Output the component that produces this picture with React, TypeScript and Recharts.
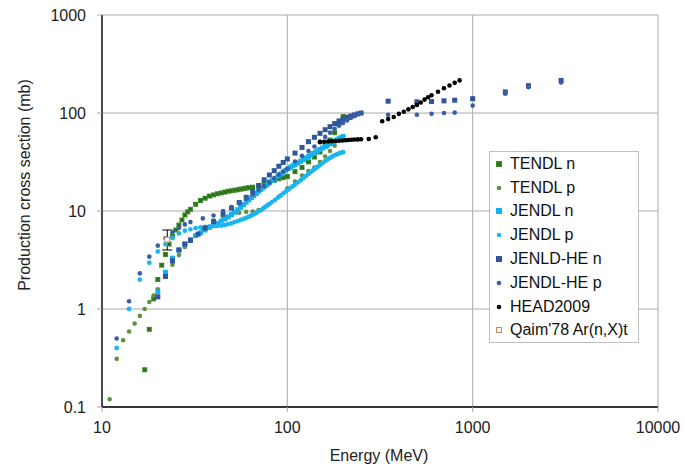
import React from 'react';
import {
  ScatterChart,
  Scatter,
  XAxis,
  YAxis,
  CartesianGrid,
  ErrorBar,
  Label,
} from 'recharts';

const FONT = '"Liberation Sans", Arial, sans-serif';

// legend names, in drawing order
const seriesNames = [
  'TENDL n',
  'TENDL p',
  'JENDL n',
  'JENDL p',
  'JENLD-HE n',
  'JENDL-HE p',
  'HEAD2009',
  "Qaim'78 Ar(n,X)t",
];

const xTicks = [10, 100, 1000, 10000];
const yTicks = [0.1, 1, 10, 100, 1000];

// TENDL n
const tendlNE = [17, 18, 19, 20, 21, 22, 23, 24, 25, 26, 27, 28, 29, 30, 32, 34, 36, 38, 40, 42, 44, 46, 48, 50, 52, 54, 56, 58, 60, 62, 65, 70, 75, 80, 85, 90, 95, 100, 110, 120, 130, 140, 150, 160, 170, 180, 190, 200];
const tendlNV = [0.24, 0.62, 1.27, 2.0, 2.8, 3.6, 4.6, 5.5, 6.4, 7.2, 8.1, 9.1, 9.8, 10.4, 11.7, 12.8, 13.5, 14.2, 14.6, 15.0, 15.3, 15.6, 15.9, 16.1, 16.3, 16.5, 16.7, 16.9, 17.1, 17.3, 17.5, 18.0, 18.9, 19.8, 20.6, 21.3, 21.9, 22.5, 25.2, 27.8, 31.7, 35.5, 40, 46, 53, 63, 77, 92];

// TENDL p
const tendlPE = [11, 12, 13, 14, 15, 16, 17, 18, 19, 20, 22, 24, 26, 28, 30, 32, 35, 40, 45, 50, 55, 60, 65, 70, 80, 90, 100, 110, 120, 130, 140, 150, 160, 170, 180];
const tendlPV = [0.12, 0.31, 0.48, 0.59, 0.71, 0.85, 1.0, 1.18, 1.37, 1.59, 2.2, 2.83, 3.55, 4.3, 5.0, 5.6, 6.6, 8.0, 8.8, 9.3, 9.6, 9.8, 9.9, 10.2, 11.8, 14.0, 17.0, 20.0, 23.0, 25.5, 27.8, 31.6, 36, 41, 46.5];

// JENDL n
const jendlNE = [20, 22, 24, 26, 28, 30, 32, 34, 36, 38, 40, 42, 44, 46, 48, 50, 52, 54, 56, 58, 60, 62, 64, 66, 68, 70, 72, 74, 76, 78, 80, 83, 86, 89, 92, 95, 98, 101, 104, 107, 110, 114, 118, 122, 126, 130, 134, 138, 142, 146, 150, 155, 160, 165, 170, 175, 180, 185, 190, 195, 200];
const jendlNV = [1.5, 2.37, 3.3, 4.0, 4.6, 5.1, 5.6, 6.0, 6.4, 6.8, 7.2, 7.5, 7.9, 8.3, 8.7, 9.2, 9.7, 10.3, 10.9, 11.6, 12.3, 13.0, 13.7, 14.4, 15.1, 15.9, 16.6, 17.3, 18.0, 18.7, 19.4, 20.5, 21.6, 22.7, 23.8, 24.9, 26.0, 27.0, 28.0, 28.9, 29.8, 31.0, 32.2, 33.4, 34.7, 36.0, 37.3, 38.6, 39.9, 41.2, 42.5, 44.0, 45.5, 47.0, 48.6, 50.2, 51.8, 53.2, 54.6, 56.0, 57.5];

// JENDL p
const jendlPE = [12, 14, 16, 18, 20, 22, 24, 26, 28, 30, 32, 34, 36, 38, 40, 42, 44, 46, 48, 50, 52, 54, 56, 58, 60, 62, 64, 66, 68, 70, 72, 74, 76, 78, 80, 83, 86, 89, 92, 95, 98, 101, 104, 107, 110, 114, 118, 122, 126, 130, 134, 138, 142, 146, 150, 155, 160, 165, 170, 175, 180, 185, 190, 195, 200];
const jendlPV = [0.40, 1.0, 1.99, 2.97, 3.86, 4.59, 5.3, 5.9, 6.3, 6.5, 6.7, 6.8, 6.9, 6.95, 7.0, 7.05, 7.1, 7.2, 7.35, 7.5, 7.7, 7.9, 8.1, 8.3, 8.5, 8.75, 9.0, 9.3, 9.6, 9.9, 10.2, 10.6, 11.0, 11.4, 11.8, 12.4, 13.0, 13.7, 14.4, 15.1, 15.8, 16.5, 17.2, 17.9, 18.6, 19.6, 20.6, 21.7, 22.8, 23.9, 25.0, 26.1, 27.2, 28.3, 29.5, 30.9, 32.3, 33.6, 34.8, 36.0, 37.0, 37.9, 38.7, 39.3, 39.8];

// JENDL-HE n
const heNE = [20, 22, 24, 26, 28, 30, 33, 36, 40, 45, 50, 55, 60, 65, 70, 75, 80, 85, 90, 95, 100, 110, 120, 130, 140, 150, 160, 170, 180, 190, 200, 210, 220, 230, 240, 250, 350, 500, 600, 700, 800, 1000, 1500, 2000, 3000];
const heNV = [1.33, 2.15, 3.1, 4.0, 4.6, 5.0, 5.8, 6.7, 7.8, 9.3, 10.7, 12.2, 13.8, 15.8, 18.2, 20.8, 23.3, 25.8, 28.6, 31.3, 34, 39, 44.5, 51, 56.5, 62, 67.5, 72.5, 78, 83, 87, 90.5, 93, 95.5, 98, 100, 132, 130, 131, 133, 135, 140, 164, 190, 215];

// JENDL-HE p
const hePE = [12, 14, 16, 18, 20, 22, 24, 26, 28, 30, 35, 40, 45, 50, 55, 60, 65, 70, 75, 80, 85, 90, 95, 100, 110, 120, 130, 140, 150, 160, 170, 180, 190, 200, 210, 220, 230, 240, 250, 350, 500, 600, 700, 800, 1000, 1500, 2000, 3000];
const hePV = [0.50, 1.2, 2.31, 3.42, 4.43, 5.27, 6.07, 6.7, 7.3, 7.7, 8.4, 9.0, 10.0, 11.0, 12.0, 13.3, 14.8, 16.5, 18.0, 19.5, 21.5, 23.5, 25.2, 27, 32, 36.5, 41, 45.5, 51, 57, 63, 69, 74, 79, 84, 89, 93, 97, 100, 96, 96, 98, 100, 101, 119, 157, 183, 205];

// HEAD2009
const headE = [150, 158, 166, 174, 182, 190, 198, 206, 214, 222, 230, 240, 250, 275, 300, 325, 350, 375, 400, 425, 450, 475, 500, 525, 550, 575, 600, 650, 700, 750, 800, 850];
const headV = [50.4, 50.8, 51.1, 51.5, 51.8, 52.1, 52.4, 52.8, 53.1, 53.4, 53.6, 53.8, 54.0, 54.2, 56.5, 82.5, 86.6, 91, 98, 103, 109, 115, 121, 128, 137, 145, 152, 165, 179, 191, 203, 215];

// Qaim'78 measurement
const qaimE = [22.5];
const qaimV = [5.1];
const qaimErr = [[1.1, 1.3]];

const pts = (xs: number[], ys: number[]) => xs.map((x, i) => ({ x, y: ys[i] }));
const qaimData = qaimE.map((x, i) => ({ x, y: qaimV[i], err: qaimErr[i] }));

const colors = {
  tendlN: '#3C8A26',
  tendlP: '#5E9140',
  jendlN: '#12B2EE',
  jendlP: '#1DB5EF',
  heN: '#30559A',
  heP: '#3A5EA3',
  head: '#000000',
  qaim: '#C08A60',
};

const square = (fill: string, s: number) => (p: any) => (
  <rect x={p.cx - s / 2} y={p.cy - s / 2} width={s} height={s} fill={fill} />
);

const crossSquare = (fill: string, s: number) => (p: any) => (
  <g>
    <rect x={p.cx - s / 2} y={p.cy - s / 2} width={s} height={s} fill={fill} />
    <path
      d={`M${p.cx - s / 2 + 1},${p.cy - s / 2 + 1}L${p.cx + s / 2 - 1},${p.cy + s / 2 - 1}M${p.cx + s / 2 - 1},${p.cy - s / 2 + 1}L${p.cx - s / 2 + 1},${p.cy + s / 2 - 1}`}
      stroke="#1E5210"
      strokeWidth={0.8}
    />
  </g>
);

const dot = (fill: string, r: number) => (p: any) => (
  <circle cx={p.cx} cy={p.cy} r={r} fill={fill} />
);

const openSquare = (stroke: string, s: number) => (p: any) => (
  <rect x={p.cx - s / 2} y={p.cy - s / 2} width={s} height={s} fill="#fff" stroke={stroke} strokeWidth={1} />
);

const legendMarkers = [
  <g><rect x={6} y={4} width={6} height={6} fill={colors.tendlN} /><path d="M7,5L11,9M11,5L7,9" stroke="#1E5210" strokeWidth={0.7} /></g>,
  <circle cx={9} cy={7} r={2.3} fill={colors.tendlP} />,
  <rect x={6} y={4} width={6} height={6} fill={colors.jendlN} />,
  <circle cx={9} cy={7} r={2.3} fill={colors.jendlP} />,
  <rect x={6} y={4} width={6} height={6} fill={colors.heN} />,
  <circle cx={9} cy={7} r={2.3} fill={colors.heP} />,
  <circle cx={9} cy={7} r={2.3} fill={colors.head} />,
  <rect x={6.5} y={4.5} width={5} height={5} fill="#fff" stroke={colors.qaim} strokeWidth={1} />,
];

const yTitle = () => (
  <text
    x={24}
    y={185}
    transform="rotate(-90 24 185)"
    textAnchor="middle"
    dominantBaseline="central"
    fontFamily={FONT}
    fontSize={16}
    fill="#222"
  >
    Production cross section (mb)
  </text>
);

const xTitle = () => (
  <text x={379} y={461} textAnchor="middle" fontFamily={FONT} fontSize={16} fill="#222">
    Energy (MeV)
  </text>
);

const tickStyle = { fill: '#222', fontSize: 16, fontFamily: FONT };

export default function App() {
  return (
    <div style={{ position: 'absolute', left: 0, top: 0, width: 685, height: 470, background: '#fff' }}>
      <ScatterChart width={685} height={470} margin={{ top: 15, right: 27, bottom: 0, left: 0 }}>
        <CartesianGrid stroke="#ABABAB" strokeWidth={1} />
        <XAxis
          dataKey="x"
          type="number"
          scale="log"
          domain={[10, 10000]}
          ticks={xTicks}
          interval={0}
          allowDataOverflow
          height={63}
          tickSize={5}
          tickMargin={10}
          axisLine={{ stroke: '#000', strokeWidth: 1.3 }}
          tickLine={{ stroke: '#A6A6A6' }}
          tick={tickStyle}
        >
          <Label content={xTitle} />
        </XAxis>
        <YAxis
          dataKey="y"
          type="number"
          scale="log"
          domain={[0.1, 1000]}
          ticks={yTicks}
          interval={0}
          allowDataOverflow
          width={102}
          tickSize={5}
          tickMargin={11}
          axisLine={{ stroke: '#000', strokeWidth: 1.3 }}
          tickLine={{ stroke: '#A6A6A6' }}
          tick={tickStyle}
        >
          <Label content={yTitle} />
        </YAxis>
        <Scatter name={seriesNames[0]} data={pts(tendlNE, tendlNV)} shape={crossSquare(colors.tendlN, 5)} isAnimationActive={false} />
        <Scatter name={seriesNames[1]} data={pts(tendlPE, tendlPV)} shape={dot(colors.tendlP, 2.3)} isAnimationActive={false} />
        <Scatter name={seriesNames[2]} data={pts(jendlNE, jendlNV)} shape={square(colors.jendlN, 5)} isAnimationActive={false} />
        <Scatter name={seriesNames[3]} data={pts(jendlPE, jendlPV)} shape={dot(colors.jendlP, 2.4)} isAnimationActive={false} />
        <Scatter name={seriesNames[4]} data={pts(heNE, heNV)} shape={square(colors.heN, 5)} isAnimationActive={false} />
        <Scatter name={seriesNames[5]} data={pts(hePE, hePV)} shape={dot(colors.heP, 2.3)} isAnimationActive={false} />
        <Scatter name={seriesNames[6]} data={pts(headE, headV)} shape={dot(colors.head, 2.3)} isAnimationActive={false} />
        <Scatter name={seriesNames[7]} data={qaimData} shape={openSquare(colors.qaim, 5)} isAnimationActive={false}>
          <ErrorBar dataKey="err" direction="y" width={5} stroke="#000" strokeWidth={1} isAnimationActive={false} />
        </Scatter>
      </ScatterChart>
      <div
        style={{
          position: 'absolute',
          left: 489,
          top: 151,
          width: 150,
          height: 192,
          boxSizing: 'border-box',
          border: '1px solid #BFBFBF',
          background: '#fff',
          fontFamily: FONT,
          fontSize: 16,
          color: '#111',
        }}
      >
        {seriesNames.map((name, i) => (
          <div key={name} style={{ display: 'flex', alignItems: 'center', height: 23.8, lineHeight: 1 }}>
            <svg width={19} height={14} style={{ flex: 'none', marginRight: 1 }}>
              {legendMarkers[i]}
            </svg>
            <span style={{ whiteSpace: 'nowrap' }}>{name}</span>
          </div>
        ))}
      </div>
    </div>
  );
}
